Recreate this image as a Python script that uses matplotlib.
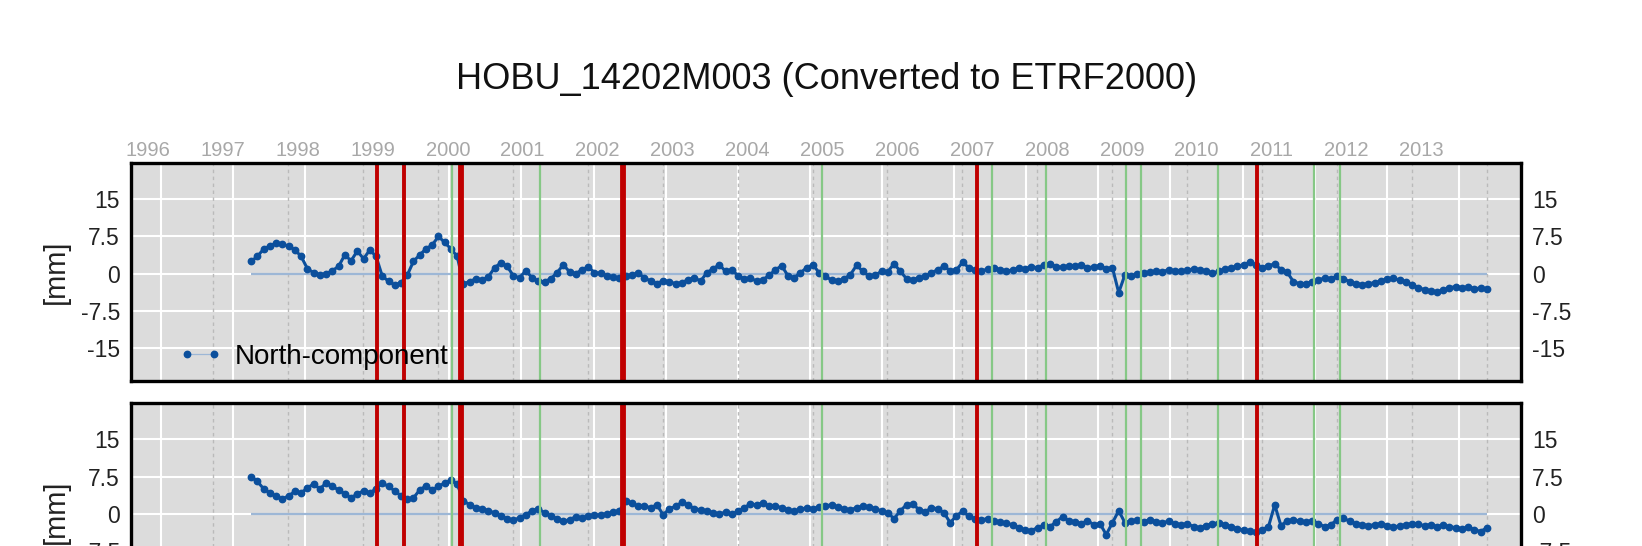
import numpy as np
import matplotlib
matplotlib.use("Agg")
import matplotlib.pyplot as plt

plt.rcParams['font.family'] = ['Liberation Sans', 'DejaVu Sans']

# ---- data (mm, monthly samples starting at t0) ----
t0 = 1997.375

north = [
    2.5, 3.5, 5.0, 5.6, 6.2, 5.9, 5.6, 4.8, 3.5, 1.0, 0.2, -0.2,
    0.0, 0.6, 1.5, 3.8, 2.6, 4.6, 3.0, 4.8, 3.5, -0.5, -1.5, -2.3,
    -1.8, -0.3, 2.5, 3.8, 5.0, 5.8, 7.5, 6.3, 5.0, 3.5, -2.0, -1.6,
    -1.0, -1.3, -0.6, 1.2, 2.2, 1.5, -0.4, -0.8, 0.6, -0.8, -1.5, -1.6,
    -1.0, 0.2, 1.8, 0.4, 0.0, 0.8, 1.4, 0.2, 0.1, -0.4, -0.6, -0.9,
    -0.5, -0.2, 0.1, -0.8, -1.5, -2.0, -1.4, -1.6, -2.0, -1.8, -1.2, -0.8,
    -1.5, 0.2, 1.0, 1.8, 0.5, 0.8, -0.4, -1.0, -0.9, -1.5, -1.2, -0.3,
    0.8, 1.6, -0.4, -0.8, 0.2, 1.2, 1.8, 0.2, -0.5, -1.3, -1.5, -1.0,
    -0.2, 1.7, 0.5, -0.5, -0.3, 0.5, 0.4, 2.0, 0.5, -1.0, -1.2, -0.8,
    -0.5, 0.2, 0.8, 1.5, 0.6, 0.8, 2.3, 1.2, 0.7, 0.6, 0.9, 1.1,
    0.8, 0.6, 0.7, 1.2, 1.0, 1.4, 1.2, 1.8, 2.0, 1.4, 1.3, 1.6,
    1.5, 1.8, 1.2, 1.4, 1.6, 1.0, 1.2, -3.8, -0.2, -0.4, -0.1, 0.2,
    0.3, 0.5, 0.4, 0.8, 0.6, 0.5, 0.7, 1.0, 0.8, 0.6, 0.1, 0.5,
    0.9, 1.2, 1.5, 1.8, 2.3, 1.8, 1.2, 1.6, 2.0, 0.8, 0.3, -1.6,
    -2.0, -2.0, -1.6, -1.2, -0.9, -1.0, -0.5, -1.0, -1.6, -2.0, -2.2, -2.0,
    -1.8, -1.5, -1.0, -0.9, -1.3, -1.6, -2.2, -2.8, -3.2, -3.5, -3.6, -3.3,
    -2.8, -2.6, -2.8, -2.7, -3.0, -2.9, -3.1,
]

east = [
    7.5, 6.5, 5.0, 4.2, 3.5, 3.0, 3.6, 4.5, 4.2, 5.2, 6.0, 5.0,
    6.2, 5.5, 4.8, 4.0, 3.2, 4.0, 4.6, 4.2, 5.0, 6.2, 5.5, 4.6,
    3.6, 3.0, 3.2, 4.8, 5.6, 4.8, 5.5, 6.2, 6.8, 6.0, 2.6, 1.8,
    1.2, 1.0, 0.6, 0.2, -0.4, -1.0, -1.3, -0.8, -0.2, 0.6, 1.0, 0.2,
    -0.4, -1.0, -1.5, -1.2, -0.6, -0.8, -0.4, -0.3, -0.2, 0.0, 0.3, 0.6,
    2.5, 2.2, 1.5, 1.6, 1.2, 1.8, -0.2, 1.0, 1.5, 2.3, 1.8, 1.0,
    0.8, 0.6, 0.2, 0.0, 0.3, -0.1, 0.5, 1.2, 2.0, 1.8, 2.2, 1.5,
    1.6, 1.2, 0.8, 0.5, 0.9, 1.2, 1.0, 1.4, 1.6, 1.8, 1.3, 0.9,
    0.8, 1.2, 1.5, 1.4, 1.0, 0.6, 0.2, -1.0, 0.6, 1.8, 2.0, 0.8,
    0.4, 1.2, 1.0, 0.2, -1.8, -0.4, 0.5, -0.5, -1.0, -1.2, -1.0, -1.5,
    -1.6, -1.9, -2.2, -2.8, -3.3, -3.4, -2.8, -2.3, -2.6, -1.6, -0.6, -1.4,
    -1.6, -2.0, -1.4, -2.2, -2.0, -4.2, -1.8, 0.6, -1.8, -1.5, -1.2, -1.6,
    -1.2, -1.6, -1.8, -1.5, -2.0, -2.2, -2.0, -2.6, -2.8, -2.4, -2.0, -1.8,
    -2.2, -2.6, -3.0, -3.3, -3.5, -3.7, -3.2, -2.6, 1.8, -2.4, -1.4, -1.2,
    -1.5, -1.6, -1.4, -2.0, -2.6, -2.2, -1.2, -0.9, -1.5, -2.0, -2.2, -2.4,
    -2.2, -2.0, -2.4, -2.6, -2.5, -2.2, -2.0, -2.1, -2.4, -2.2, -2.6, -2.3,
    -2.6, -2.8, -3.0, -2.7, -3.2, -3.6, -2.8,
]

# discontinuities: equipment changes (red) and other events (green)
red_major = [2000.18, 2002.34]
red_minor = [1999.06, 1999.41, 2007.06, 2010.81]
green_events = [2000.06, 2001.23, 2005.00, 2007.26, 2007.99,
                2009.06, 2009.26, 2010.28, 2011.57, 2011.91]

years = list(range(1996, 2014))
ytick_vals = [-15, -7.5, 0, 7.5, 15]
ytick_labels = ['-15', '-7.5', '0', '7.5', '15']

# grid positions in the original plot
major_grid = np.linspace(1996.17, 2013.50, 19)
year_grid = [y + 0.87 for y in years]

t_north = t0 + np.arange(len(north)) / 12.0
t_east = t0 + np.arange(len(east)) / 12.0

DARK = '#0b4f9c'
LIGHT = '#9db7d6'
BG = '#dcdcdc'


def style_panel(ax, top_labels):
    ax.set_facecolor(BG)
    ax.set_xlim(1995.77, 2014.33)
    ax.set_ylim(-21.6, 22.3)
    for yv in ytick_vals:
        ax.axhline(yv, color='white', lw=1.5, zorder=1)
    for xv in major_grid:
        ax.axvline(xv, color='white', lw=1.5, zorder=1)
    for xv in year_grid:
        ax.axvline(xv, color='#bababa', lw=1.0, ls=(0, (2.5, 2.5)), zorder=1)

    ax.set_yticks(ytick_vals)
    ax.set_yticklabels(ytick_labels)
    ax.tick_params(axis='y', length=0, pad=8, labelsize=16.5,
                   left=True, right=True, labelleft=True, labelright=True,
                   labelcolor='#222222')
    if top_labels:
        ax.xaxis.tick_top()
        ax.set_xticks(years)
        ax.set_xticklabels([str(y) for y in years])
        ax.tick_params(axis='x', length=0, pad=2.5, labelsize=14.5,
                       labelcolor='#a8a8a8')
    else:
        ax.set_xticks([])
    ax.set_ylabel('[mm]', fontsize=21, color='#222222')
    ax.yaxis.set_label_coords(-0.0439, 0.5)
    for sp in ax.spines.values():
        sp.set_linewidth(2.4)
        sp.set_color('black')
        sp.set_zorder(10)


def draw_series(ax, t, vals, label):
    ax.hlines(0, t[0], t[-1], color=LIGHT, lw=1.6, zorder=2)
    ax.plot(t, vals, '-', color=LIGHT, lw=0.9, marker='o', ms=4.6,
            mfc=DARK, mec=DARK, zorder=3, label=label)
    ax.plot(t, vals, '-', color=DARK, lw=2.2, zorder=3.5)
    for xv in green_events:
        ax.axvline(xv, color='#86c886', lw=1.6, zorder=4)
    for xv in red_minor:
        ax.axvline(xv, color='#c00000', lw=2.8, zorder=5)
    for xv in red_major:
        ax.axvline(xv, color='#c00000', lw=4.2, zorder=5)


fig = plt.figure(figsize=(16.42, 5.46), dpi=100)
ax1 = fig.add_axes([0.0798, 0.3022, 0.8465, 0.3993])
ax2 = fig.add_axes([0.0798, -0.1374, 0.8465, 0.3993])

style_panel(ax1, True)
style_panel(ax2, False)
draw_series(ax1, t_north, north, 'North-component')
draw_series(ax2, t_east, east, 'East-component')

ax1.legend(loc='center left', bbox_to_anchor=(0.034, 0.11), frameon=False,
           fontsize=20, numpoints=2, handlelength=1.6, handletextpad=0.45,
           borderpad=0, borderaxespad=0)

fig.text(0.5036, 0.855, 'HOBU_14202M003 (Converted to ETRF2000)',
         ha='center', va='center', fontsize=26, color='#111111')

fig.savefig('out.png', dpi=100)
